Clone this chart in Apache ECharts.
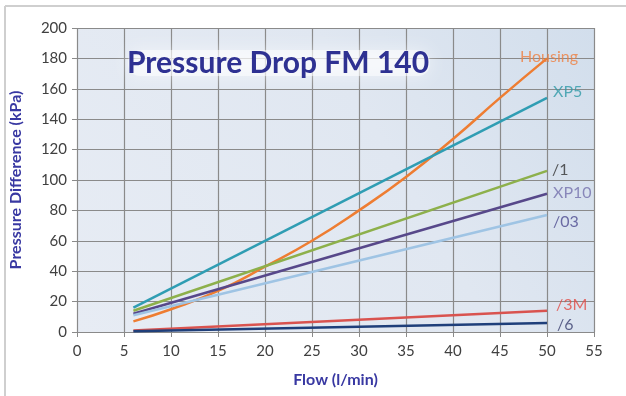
<!DOCTYPE html>
<html><head><meta charset="utf-8">
<script src="https://cdn.jsdelivr.net/npm/echarts@6/dist/echarts.min.js"></script>
<style>html,body{margin:0;padding:0;background:#fff;}#c{width:626px;height:396px;}</style>
</head><body><div id="c"></div>
<script>
// Data
const xTicks = [0, 5, 10, 15, 20, 25, 30, 35, 40, 45, 50, 55];
const yTicks = [0, 20, 40, 60, 80, 100, 120, 140, 160, 180, 200];
const housingFlow = [6, 10, 15, 20, 25, 30, 35, 40, 45, 50];
const housing = [7, 15, 27, 43, 60, 80, 102, 127, 154, 180];
const lineFlow = [6, 50];
const xp5 = [16, 154];
const f1 = [14, 106];
const xp10 = [12, 91];
const f03 = [11, 77];
const f3m = [1, 14];
const f6 = [0.5, 6];

const FONT = 'Lato, "Open Sans", sans-serif';
const pairs = (xs, ys) => xs.map((x, i) => [x, ys[i]]);

const specs = [
  { name: 'Housing', xs: housingFlow, ys: housing, color: '#ee7d32', lc: '#ef7f40', off: [-27, -2], smooth: true },
  { name: 'XP5', xs: lineFlow, ys: xp5, color: '#2f9db3', lc: '#2f9aa8', off: [6, -6] },
  { name: '/1', xs: lineFlow, ys: f1, color: '#8db04b', lc: '#333333', off: [5, -1] },
  { name: 'XP10', xs: lineFlow, ys: xp10, color: '#57488a', lc: '#7470ac', off: [6, -1] },
  { name: '/03', xs: lineFlow, ys: f03, color: '#9fc4e4', lc: '#4d4b90', off: [6, 7] },
  { name: '/3M', xs: lineFlow, ys: f3m, color: '#d9534f', lc: '#e24a43', off: [9, -6] },
  { name: '/6', xs: lineFlow, ys: f6, color: '#1f3f7a', lc: '#3a3f6e', off: [10, 2] }
];

const series = [];
specs.forEach(s => {
  series.push({
    name: s.name, type: 'line', data: pairs(s.xs, s.ys), smooth: !!s.smooth,
    showSymbol: false, symbol: 'none',
    lineStyle: { color: s.color, width: 2.5 }, itemStyle: { color: s.color }, z: 3
  });
});
// end labels, placed at each series' last data point
series.push({
  type: 'scatter', symbolSize: 0, silent: true, z: 4,
  data: specs.map(s => ({
    value: [s.xs[s.xs.length - 1], s.ys[s.ys.length - 1]],
    label: { show: true, position: 'right', distance: 0, formatter: s.name, color: s.lc,
             fontSize: 16, fontFamily: FONT, offset: s.off }
  }))
});

const chart = echarts.init(document.getElementById('c'), null, { renderer: 'canvas' });
chart.setOption({
  animation: false,
  backgroundColor: '#fff',
  grid: { left: 77, right: 32, top: 28, bottom: 64, show: false },
  xAxis: {
    type: 'value', min: 0, max: 55, interval: 5,
    name: 'Flow (l/min)', nameLocation: 'middle', nameGap: 40,
    nameTextStyle: { color: '#3838a2', fontWeight: 'bold', fontSize: 16, fontFamily: FONT },
    axisLine: { show: true, lineStyle: { color: '#8a8a8a', width: 1.2 } },
    axisTick: { show: true, length: 5, lineStyle: { color: '#8a8a8a' } },
    axisLabel: { color: '#404040', fontSize: 15, fontFamily: FONT, margin: 12 },
    splitLine: { show: true, lineStyle: { color: '#8a8a8a', width: 1.2 } }
  },
  yAxis: {
    type: 'value', min: 0, max: 200, interval: 20,
    name: 'Pressure Difference (kPa)', nameLocation: 'middle', nameGap: 53, nameRotate: 90,
    nameTextStyle: { color: '#3838a2', fontWeight: 'bold', fontSize: 16, fontFamily: FONT },
    axisLine: { show: false },
    axisTick: { show: true, length: 5, lineStyle: { color: '#8a8a8a' } },
    axisLabel: { color: '#404040', fontSize: 15, fontFamily: FONT, margin: 10 },
    splitLine: { show: true, lineStyle: { color: '#8a8a8a', width: 1.2 } }
  },
  series
});

const p0 = chart.convertToPixel({ gridIndex: 0 }, [0, 0]);
const p1 = chart.convertToPixel({ gridIndex: 0 }, [55, 200]);
chart.setOption({
  graphic: [
    { type: 'rect', z: -10, silent: true,
      shape: { x: p0[0], y: p1[1], width: p1[0] - p0[0], height: p0[1] - p1[1] },
      style: { fill: new echarts.graphic.LinearGradient(0, 1, 1, 0, [
        { offset: 0, color: '#e7ecf4' }, { offset: 0.6, color: '#e0e7f1' }, { offset: 1, color: '#d2deec' }
      ]) } },
    { type: 'line', shape: { x1: 5, y1: 6, x2: 626, y2: 6 }, style: { stroke: '#cfcfcf', lineWidth: 2 } },
    { type: 'line', shape: { x1: 5, y1: 6, x2: 5, y2: 396 }, style: { stroke: '#cfcfcf', lineWidth: 2 } },
    { type: 'rect', shape: { x: 128, y: 50, width: 302, height: 26, r: 12 },
      style: { fill: 'rgba(255,255,255,0.5)', shadowBlur: 16, shadowColor: 'rgba(255,255,255,0.95)' }, z: 10 },
    { type: 'text', left: 127, top: 48, z: 11,
      style: { text: 'Pressure Drop FM 140', fill: '#2e3192', font: 'bold 30px ' + FONT } }
  ]
});
</script></body></html>
